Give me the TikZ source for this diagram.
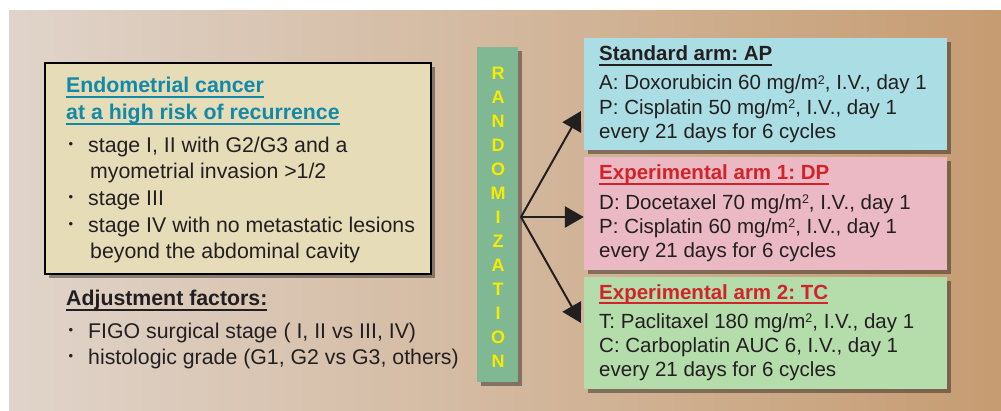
\documentclass[tikz,border=0pt]{standalone}
\usepackage{fontspec}
\setmainfont{Liberation Sans}
\usetikzlibrary{arrows.meta,shadows}
\definecolor{txt}{HTML}{231F20}
\definecolor{bgL}{HTML}{E0D4CA}
\definecolor{bgR}{HTML}{C69C72}
\definecolor{leftfill}{HTML}{E6DCB8}
\definecolor{randfill}{HTML}{7FB893}
\definecolor{ryellow}{HTML}{F7EC00}
\definecolor{bluefill}{HTML}{AADDE4}
\definecolor{pinkfill}{HTML}{EBB9C4}
\definecolor{greenfill}{HTML}{B4DDAB}
\definecolor{tealtxt}{HTML}{1289A7}
\definecolor{redtxt}{HTML}{D2232A}
\frenchspacing
\newcommand\ulc[1]{\sbox0{#1}\rlap{\usebox0}\rule[-0.24em]{\wd0}{0.095em}}
\newcommand\sqtwo{\raisebox{0.29em}{\fontsize{12.5}{12}\selectfont 2}}
\begin{document}
\begin{tikzpicture}[x=1pt,y=-1pt,
  lt/.style={anchor=base west, inner sep=0pt, text=txt, font=\fontsize{21.3}{24}\selectfont},
  ltb/.style={lt, font=\bfseries\fontsize{21.3}{24}\selectfont},
  rt/.style={anchor=base west, inner sep=0pt, text=txt, font=\fontsize{20.5}{24}\selectfont},
  rtb/.style={rt, font=\bfseries\fontsize{20.5}{24}\selectfont},
  bul/.style={anchor=center, inner sep=0pt, text=txt, font=\fontsize{13}{13}\selectfont},
  shd/.style={drop shadow={shadow xshift=4pt, shadow yshift=-4pt, fill=black, opacity=0.38}},
  box/.style={shd, inner sep=0pt, minimum width=363pt},
  arr/.style={draw=txt, line width=2pt, -{Triangle[length=19pt,width=21pt]}, line join=miter}
  ]
\useasboundingbox (0,0) rectangle (1001,411);
\fill[white] (0,0) rectangle (1001,411);
\shade[left color=bgL, right color=bgR] (9,11) rectangle (1001,411);

% left box
\node[draw=black, line width=1.3pt, fill=leftfill, shd, inner sep=0pt,
      minimum width=386pt, minimum height=211pt] (elig) at (238,168.5) {};
\node[ltb, text=tealtxt] (t1) at (66,93) {\ulc{Endometrial cancer}};
\node[ltb, text=tealtxt] (t2) at (66,119.5) {\ulc{at a high risk of recurrence}};
\node[bul] (b1) at (71,145.5) {•};
\node[lt] (l1) at (88,152.7) {stage I, II with G2/G3 and a};
\node[lt] (l2) at (90,178.7) {myometrial invasion >1/2};
\node[bul] (b2) at (71,198.5) {•};
\node[lt] (l3) at (88,205.7) {stage III};
\node[bul] (b3) at (71,225.1) {•};
\node[lt] (l4) at (88,232.3) {stage IV with no metastatic lesions};
\node[lt] (l5) at (90,258.3) {beyond the abdominal cavity};

\node[ltb] (adj) at (66,306) {\ulc{Adjustment factors:}};
\node[bul] (b4) at (71,331.1) {•};
\node[lt] (f1) at (88,338.3) {FIGO surgical stage ( I, II vs III, IV)};
\node[bul] (b5) at (71,357.8) {•};
\node[lt] (f2) at (88,365) {histologic grade (G1, G2 vs G3, others)};

% randomization
\node[fill=randfill, shd, inner sep=0pt, minimum width=41pt, minimum height=335pt] (rand) at (497.5,214.5) {};
\node[font=\bfseries\fontsize{18}{24}\selectfont, text=ryellow, align=center, inner sep=0pt] (randtxt) at (498,217.3)
  {R\\A\\N\\D\\O\\M\\I\\Z\\A\\T\\I\\O\\N};

% arms
\node[box, fill=bluefill, minimum height=112pt] (arm1) at (765.5,94) {};
\node[box, fill=pinkfill, minimum height=113pt] (arm2) at (765.5,213.5) {};
\node[box, fill=greenfill, minimum height=112pt] (arm3) at (765.5,333) {};

\node[rtb] (a1t) at (599,60.7) {\ulc{Standard arm: AP}};
\node[rt] (a1a) at (599,90) {A: Doxorubicin 60 mg/m\sqtwo, I.V., day 1};
\node[rt] (a1b) at (599,114.3) {P: Cisplatin 50 mg/m\sqtwo, I.V., day 1};
\node[rt] (a1c) at (599,138.3) {every 21 days for 6 cycles};

\node[rtb, text=redtxt] (a2t) at (599,180) {\ulc{Experimental arm 1: DP}};
\node[rt] (a2a) at (599,209.3) {D: Docetaxel 70 mg/m\sqtwo, I.V., day 1};
\node[rt] (a2b) at (599,233.3) {P: Cisplatin 60 mg/m\sqtwo, I.V., day 1};
\node[rt] (a2c) at (599,257.3) {every 21 days for 6 cycles};

\node[rtb, text=redtxt] (a3t) at (599,299.3) {\ulc{Experimental arm 2: TC}};
\node[rt] (a3a) at (599,328.3) {T: Paclitaxel 180 mg/m\sqtwo, I.V., day 1};
\node[rt] (a3b) at (599,352.3) {C: Carboplatin AUC 6, I.V., day 1};
\node[rt] (a3c) at (599,376.5) {every 21 days for 6 cycles};

% connectors
\coordinate (split) at (521,217);
\coordinate (tipA) at (581,111);
\coordinate (tipC) at (581,323);
\draw[arr] (split) -- (tipA);
\draw[arr, line width=2.8pt] (split) -- (arm2.west |- split);
\draw[arr] (split) -- (tipC);
\end{tikzpicture}
\end{document}
